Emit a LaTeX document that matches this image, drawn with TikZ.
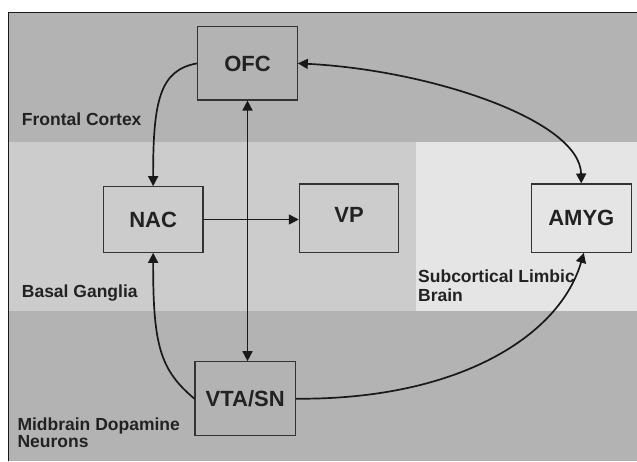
\documentclass[tikz,border=0pt]{standalone}
\usepackage{fontspec}
\setmainfont{Liberation Sans}
\usetikzlibrary{arrows.meta}
\definecolor{bandDark}{HTML}{B3B3B3}
\definecolor{bandMid}{HTML}{CCCCCC}
\definecolor{bandLight}{HTML}{E5E5E5}
\definecolor{boxLine}{HTML}{333333}
\definecolor{inkText}{HTML}{222222}
\tikzset{
  regionlabel/.style={font=\bfseries\fontsize{17.5}{19.4}\selectfont, text=inkText, inner sep=0pt, align=left, anchor=base west},
  brainbox/.style={draw=boxLine, line width=1.1pt, font=\bfseries\fontsize{22}{26}\selectfont, text=inkText, inner sep=0pt, text depth=0pt},
  conn/.style={line width=1.7pt, draw=black!90},
  tipend/.style={-{Triangle[length=10pt,width=10pt]}},
  tipboth/.style={{Triangle[length=10pt,width=10pt]}-{Triangle[length=10pt,width=10pt]}}
}
\begin{document}
\begin{tikzpicture}[x=1pt,y=-1pt]
\useasboundingbox (0,0) rectangle (637,461);
% background bands
\fill[bandDark] (8.3,12.3) rectangle (637,141.7);
\fill[bandMid] (8.3,141.7) rectangle (416,311);
\fill[bandLight] (416,141.7) rectangle (637,311);
\fill[bandDark] (8.3,311) rectangle (637,461);
\draw[line width=1pt, black!90] (8.3,461) -- (8.3,12.3) -- (637,12.3);

% region labels (base anchor = last line baseline)
\node[regionlabel] (lblFC) at (21.7,125.7) {Frontal Cortex};
\node[regionlabel] (lblBG) at (21.7,297.7) {Basal Ganglia};
\node[regionlabel] (lblSL) at (418,301.7) {Subcortical Limbic\\Brain};
\node[regionlabel, font=\bfseries\fontsize{17.5}{17.3}\selectfont] (lblMD) at (17.3,447.3) {Midbrain Dopamine\\Neurons};

% boxes
\node[brainbox, minimum width=99.6pt, minimum height=73.3pt] (OFC) at (247.5,63.35) {OFC};
\node[brainbox, minimum width=99.7pt, minimum height=65.6pt] (NAC) at (153.15,219.5) {NAC};
\node[brainbox, minimum width=99.4pt, minimum height=68.3pt, text depth=6pt] (VP) at (349,218.15) {VP};
\node[brainbox, minimum width=100pt, minimum height=68.3pt] (AMYG) at (581.3,218.15) {AMYG};
\node[brainbox, minimum width=100.3pt, minimum height=74pt] (VTA) at (245.15,398.7) {VTA/SN};

% connectors
\draw[conn, tipend] (OFC.west) .. controls (160,70) and (153,100) .. (NAC.north);
\draw[conn, tipend] (VTA.west) .. controls (160,370) and (153,345) .. (NAC.south);
\draw[conn, tipboth] (OFC.south) -- (OFC.south |- VTA.north);
\draw[conn, tipend] (NAC.east) -- (VP.west |- NAC.east);
\draw[conn, tipboth] (OFC.east) .. controls (430,70) and (580,120) .. (AMYG.north);
\draw[conn, tipend] (VTA.east) .. controls (460,400) and (560,335) .. ([xshift=2.5pt]AMYG.south);
\end{tikzpicture}
\end{document}
